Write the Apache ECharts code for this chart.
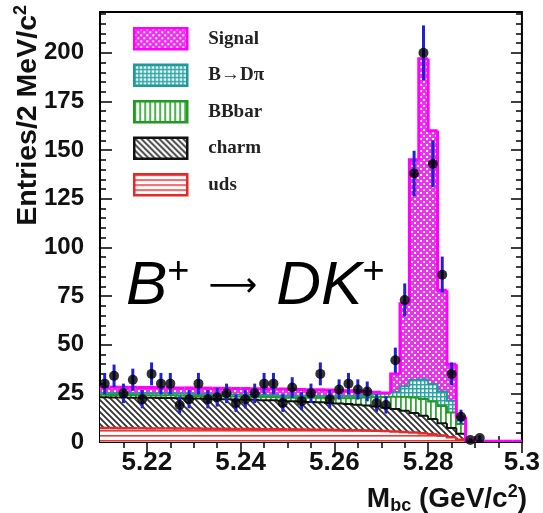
<!DOCTYPE html>
<html><head><meta charset="utf-8">
<script src="https://cdn.jsdelivr.net/npm/echarts@6/dist/echarts.min.js"></script>
<style>html,body{margin:0;padding:0;background:#fff}#c{width:543px;height:513px}</style>
</head><body><div id="c"></div>
<script>
// ---- data ----
const binCenters = [5.211,5.213,5.215,5.217,5.219,5.221,5.223,5.225,5.227,5.229,
  5.231,5.233,5.235,5.237,5.239,5.241,5.243,5.245,5.247,5.249,
  5.251,5.253,5.255,5.257,5.259,5.261,5.263,5.265,5.267,5.269,
  5.271,5.273,5.275,5.277,5.279,5.281,5.283,5.285,5.287,5.289,
  5.291,5.293,5.295,5.297,5.299];
const binHalfWidth = 0.001;
const dataCounts = [30,34,25,32,22,35,30,30,19,22,30,22,23,25,20,22,25,30,30,20,
  28,21,25,35,22,27,30,27,26,20,19,42,73,138,200,143,86,35,13,1,2];
const dataErrors = [5.5,5.8,5,5.7,4.7,5.9,5.5,5.5,4.4,4.7,5.5,4.7,4.8,5,4.5,4.7,5,5.5,5.5,4.5,
  5.3,4.6,5,5.9,4.7,5.2,5.5,5.2,5.1,4.5,4.4,6.5,8.5,11.7,14.1,12,9.3,5.9,3.6,1,1.4];
const udsVals = [7.2,7.2,7.1,7.1,7.1,7.0,7.0,7.0,6.9,6.9, 6.9,6.8,6.8,6.8,6.7,6.7,6.7,6.6,6.6,6.5,
  6.5,6.4,6.4,6.3,6.3,6.2,6.1,6.0,5.9,5.8, 5.6,5.4,5.2,4.9,4.5,4.0,3.3,2.4,1.2,0, 0,0,0,0,0];
const charmVals = [15.8,15.7,15.8,15.7,15.7,15.7,15.6,15.6,15.6,15.5, 15.4,15.4,15.3,15.2,15.2,15.1,15.0,14.9,14.8,14.7,
  14.5,14.4,14.2,14.1,13.8,13.6,13.4,13.1,12.8,12.4, 12.0,11.5,10.8,10.0,9.0,7.8,6.4,4.8,3.0,0, 0,0,0,0,0];
const bbbarVals = [1.3,1.3,1.3,1.3,1.3,1.3,1.3,1.4,1.4,1.4, 1.4,1.4,1.5,1.5,1.5,1.5,1.6,1.6,1.7,1.7,
  1.8,2.0,2.1,2.3,2.5,2.8,3.0,3.5,4.2,4.8, 5.5,6.3,7.2,8.0,8.6,9.0,8.8,8.0,5.0,0, 0,0,0,0,0];
const bdpiVals = [1.0,1.0,1.0,1.0,1.0,1.0,1.0,1.0,1.0,1.0, 1.0,1.0,1.0,1.0,1.0,1.0,1.0,1.0,1.0,1.0,
  1.0,1.0,1.0,1.0,1.0,1.0,1.1,1.2,1.3,1.5, 1.8,2.5,5.5,9.0,10.0,9.0,7.5,6.0,2.5,0, 0,0,0,0,0];
const signalVals = [2.9,3.0,2.9,3.0,2.9,3.0,3.0,2.9,2.9,3.0, 3.0,3.1,3.0,3.1,3.1,3.2,3.1,3.3,3.2,3.3,
  3.3,3.2,3.2,3.1,3.1,3.0,2.8,2.4,1.8,1.1, 0.3,9.3,42.3,113.1,164.9,130.2,52.0,18.8,1.3,0.6, 0.4,0.4,0.4,0.4,0.4];
const componentNames = ['uds','charm','BBbar','B\u2192D\u03c0','Signal'];
const xMajorTicks = [5.22,5.24,5.26,5.28,5.30];
const xMinorTicks = [5.215,5.225,5.23,5.235,5.245,5.25,5.255,5.265,5.27,5.275,5.285,5.29,5.295];
const yMajorTicks = [0,25,50,75,100,125,150,175,200];
const yMinorTicks = [5,10,15,20,30,35,40,45,55,60,65,70,80,85,90,95,105,110,115,120,130,135,140,145,
  155,160,165,170,180,185,190,195,205,210,215,220];
const xRange = [5.21, 5.30];
const yRange = [0, 221];

// ---- patterns ----
function makePattern(w, h, draw) {
  const c = document.createElement('canvas'); c.width = w; c.height = h;
  const g = c.getContext('2d'); draw(g, w, h);
  return { image: c, repeat: 'repeat' };
}
const pSignal = makePattern(6, 6, g => { g.fillStyle = '#f030f0'; g.fillRect(0,0,6,6); g.fillStyle = '#fff'; g.fillRect(0,0,2,2); g.fillRect(3,3,2,2); });
const pBDpi = makePattern(4, 4, g => { g.fillStyle = '#fff'; g.fillRect(0,0,4,4); g.fillStyle = '#2aa6a6'; g.fillRect(0,0,4,1.5); g.fillRect(0,0,1.5,4); });
const pBB = makePattern(5, 5, g => { g.fillStyle = '#fff'; g.fillRect(0,0,5,5); g.fillStyle = '#2fa82f'; g.fillRect(0,0,1.8,5); });
const pCharm = makePattern(6, 6, g => { g.fillStyle = '#fff'; g.fillRect(0,0,6,6); g.strokeStyle = '#333'; g.lineWidth = 1.8;
  g.beginPath(); g.moveTo(-1,-1); g.lineTo(7,7); g.moveTo(-1,5); g.lineTo(1,7); g.moveTo(5,-1); g.lineTo(7,1); g.stroke(); });
const pUds = makePattern(4, 5, g => { g.fillStyle = '#fff'; g.fillRect(0,0,4,5); g.fillStyle = '#e83a3a'; g.fillRect(0,0,4,1.6); });

const compStyle = [
  { vals: udsVals, fill: pUds, line: '#e62828', w: 2.5 },
  { vals: charmVals, fill: pCharm, line: '#111', w: 2 },
  { vals: bbbarVals, fill: pBB, line: '#229922', w: 2 },
  { vals: bdpiVals, fill: pBDpi, line: '#1f9a9a', w: 2 },
  { vals: signalVals, fill: pSignal, line: '#ff00ff', w: 3 }
];

// cumulative stacking of components
const cumBase = binCenters.map(() => 0);
const stackSeries = compStyle.map((s, k) => {
  const items = binCenters.map((c, i) => {
    const base = cumBase[i];
    const top = base + s.vals[i];
    return [c, base, top];
  });
  items.forEach((it, i) => { it.push(i > 0 ? items[i - 1][2] : it[2]); cumBase[i] = it[2]; });
  return {
    name: componentNames[k], type: 'custom', z: 2, silent: true, clip: true,
    itemStyle: { color: s.fill, borderColor: s.line },
    encode: { x: 0, y: 2 },
    renderItem: (params, api) => {
      const c = api.value(0), b = api.value(1), t = api.value(2), pt = api.value(3);
      const pL = api.coord([c - binHalfWidth, t]);
      const pR = api.coord([c + binHalfWidth, t]);
      const pB = api.coord([c - binHalfWidth, b]);
      const pP = api.coord([c - binHalfWidth, pt]);
      return { type: 'group', children: [
        { type: 'rect', z2: 0, shape: { x: pL[0], y: pL[1], width: pR[0] - pL[0] + 0.6, height: pB[1] - pL[1] },
          style: { fill: s.fill, stroke: null } },
        { type: 'polyline', z2: 10 + k, shape: { points: [pP, pL, pR] },
          style: { stroke: s.line, lineWidth: s.w, fill: null } }
      ]};
    },
    data: items
  };
});

const pointData = dataCounts.map((v, i) => [binCenters[i], v, dataErrors[i]]);

const font = '"Liberation Sans", Arial, sans-serif';
const tickColor = '#000';
function xAxisDef(pos, ticks, len, labels) {
  return { type: 'value', position: pos, min: xRange[0], max: xRange[1],
    axisLine: { show: false }, splitLine: { show: false },
    axisTick: { show: true, inside: true, length: len, customValues: ticks, lineStyle: { color: tickColor, width: 1.5 } },
    axisLabel: labels ? { show: true, customValues: ticks, margin: 8, color: '#111', fontSize: 26, fontWeight: 'bold', fontFamily: font,
      formatter: v => String(parseFloat(v.toFixed(2))) } : { show: false } };
}
function yAxisDef(pos, ticks, len, labels) {
  return { type: 'value', position: pos, min: yRange[0], max: yRange[1],
    axisLine: { show: false }, splitLine: { show: false },
    axisTick: { show: true, inside: true, length: len, customValues: ticks, lineStyle: { color: tickColor, width: 1.5 } },
    axisLabel: labels ? { show: true, customValues: ticks, margin: 16, color: '#111', fontSize: 24, fontWeight: 'bold', fontFamily: font } : { show: false } };
}

const legendOrder = ['Signal','B\u2192D\u03c0','BBbar','charm','uds'];
const legendData = legendOrder.map(n => {
  const s = compStyle[componentNames.indexOf(n)];
  return { name: n, icon: 'rect', itemStyle: { color: s.fill, borderColor: s.line, borderWidth: 2.5 } };
});

const chart = echarts.init(document.getElementById('c'), null, { renderer: 'canvas' });
chart.setOption({
  animation: false,
  grid: { left: 100, right: 18, top: 12, bottom: 71, show: true, borderColor: '#000', borderWidth: 2, backgroundColor: 'transparent' },
  xAxis: [ xAxisDef('bottom', xMajorTicks, 12, true), xAxisDef('bottom', xMinorTicks, 6, false),
           xAxisDef('top', xMajorTicks, 11, false), xAxisDef('top', xMinorTicks, 6, false) ],
  yAxis: [ yAxisDef('left', yMajorTicks, 12, true), yAxisDef('left', yMinorTicks, 6, false),
           yAxisDef('right', yMajorTicks, 11, false), yAxisDef('right', yMinorTicks, 6, false) ],
  legend: { show: true, orient: 'vertical', left: 128, top: 22, itemWidth: 53, itemHeight: 21, itemGap: 13,
    selectedMode: false, data: legendData,
    textStyle: { fontFamily: '"Liberation Serif", "Times New Roman", serif', fontWeight: 'bold', fontSize: 19, color: '#222', padding: [8, 0, 0, 16] } },
  graphic: [
    { type: 'text', x: 28, y: 5, rotation: Math.PI / 2, style: {
      text: 'Entries/2 MeV/c{sup|2}', align: 'right', verticalAlign: 'middle', fill: '#111',
      fontSize: 28.5, fontWeight: 'bold', fontFamily: font, lineHeight: 32,
      rich: { sup: { fontSize: 18, fontWeight: 'bold', fontFamily: font, verticalAlign: 'top', lineHeight: 18, fill: '#111' } } } },
    { type: 'text', x: 527, y: 499, style: {
      text: 'M{sub|bc} (GeV/c{sup|2})', align: 'right', verticalAlign: 'middle', fill: '#111',
      fontSize: 28, fontWeight: 'bold', fontFamily: font, lineHeight: 32,
      rich: { sub: { fontSize: 18, fontWeight: 'bold', fontFamily: font, verticalAlign: 'bottom', lineHeight: 14, fill: '#111' },
              sup: { fontSize: 18, fontWeight: 'bold', fontFamily: font, verticalAlign: 'top', lineHeight: 18, fill: '#111' } } } },
    { type: 'text', x: 126, y: 287, style: {
      text: '{i|B}{s|+}{a|\u27f6}{i|DK}{s|+}', align: 'left', verticalAlign: 'middle', fill: '#000',
      fontSize: 62, fontFamily: font, lineHeight: 66,
      rich: { i: { fontSize: 62, fontStyle: 'italic', fontFamily: font, lineHeight: 66, fill: '#000' },
              s: { fontSize: 38, fontFamily: font, verticalAlign: 'top', lineHeight: 42, fill: '#000' },
              a: { fontSize: 34, fontFamily: '"DejaVu Sans", sans-serif', lineHeight: 66, padding: [0, 19, 0, 19], fill: '#000' } } } }
  ],
  series: [
    ...stackSeries,
    { type: 'custom', name: 'errors', z: 5, silent: true, clip: true,
      renderItem: (params, api) => {
        const x = api.value(0), y = api.value(1), e = api.value(2);
        const p1 = api.coord([x, Math.max(0, y - e)]), p2 = api.coord([x, y + e]);
        return { type: 'line', shape: { x1: p1[0], y1: p1[1], x2: p2[0], y2: p2[1] }, style: { stroke: '#2020d8', lineWidth: 3 } };
      },
      encode: { x: 0, y: 1 }, data: pointData },
    { type: 'scatter', name: 'data', z: 6, silent: true, symbol: 'circle', symbolSize: 10,
      itemStyle: { color: '#000' }, data: pointData.map(p => [p[0], p[1]]) }
  ]
});
</script></body></html>
